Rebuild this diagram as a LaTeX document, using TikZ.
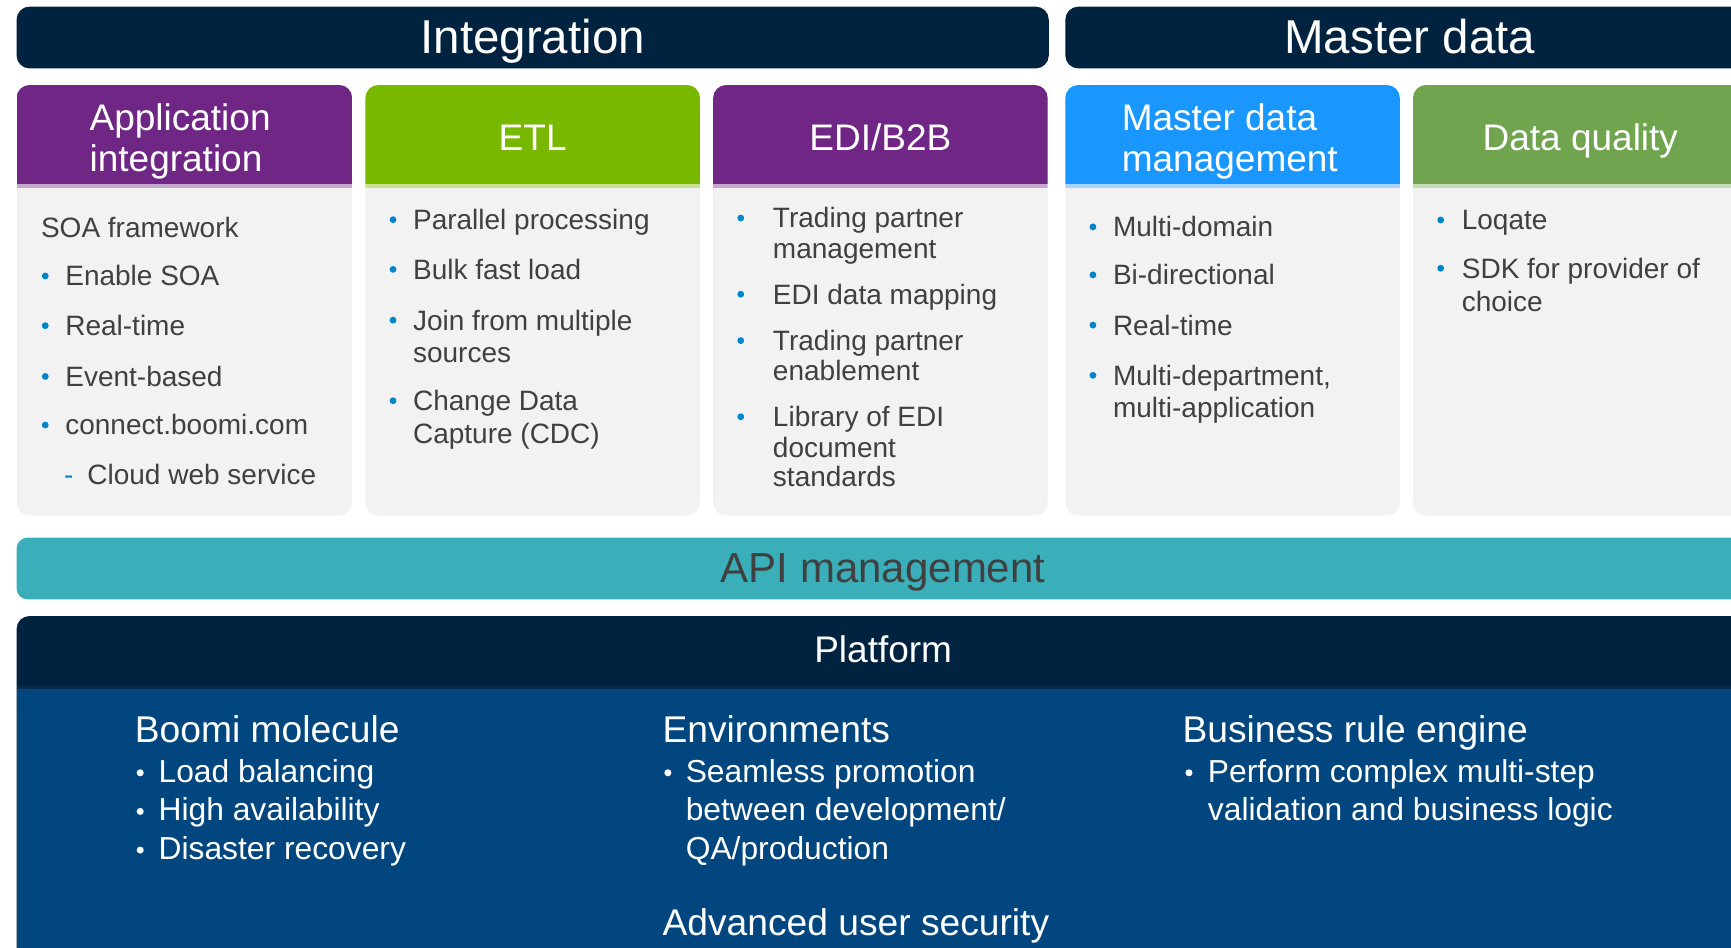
\documentclass[tikz,border=0pt]{standalone}
\usepackage{fontspec}
\setmainfont{Liberation Sans}
\definecolor{navy}{HTML}{012340}
\definecolor{navyline}{HTML}{0A2C4C}
\definecolor{platblue}{HTML}{01467E}
\definecolor{purp}{HTML}{6F2684}
\definecolor{purplite}{HTML}{C6A8CF}
\definecolor{etlgreen}{HTML}{79B800}
\definecolor{etllite}{HTML}{C8E290}
\definecolor{mdmblue}{HTML}{1A96FF}
\definecolor{mdmlite}{HTML}{A6D3FF}
\definecolor{dqgreen}{HTML}{70A44F}
\definecolor{dqlite}{HTML}{C6DCB9}
\definecolor{apiteal}{HTML}{3AAFB9}
\definecolor{bodygray}{HTML}{F2F2F2}
\definecolor{txtgray}{HTML}{404040}
\definecolor{dotblue}{HTML}{0085C8}
\tikzset{
  bartitle/.style={text=white, font=\fontsize{47.5}{50}\selectfont, inner sep=0pt, anchor=base},
  hdtitle/.style={text=white, font=\fontsize{37}{41}\selectfont, inner sep=0pt, anchor=base},
  bodytxt/.style={text=txtgray, font=\fontsize{28}{33}\selectfont, anchor=base west, inner sep=0pt},
  apitxt/.style={text=txtgray, font=\fontsize{42}{46}\selectfont, anchor=base, inner sep=0pt},
  plattitle/.style={text=white, font=\fontsize{37}{41}\selectfont, anchor=base, inner sep=0pt},
  plathead/.style={text=white, font=\fontsize{37.2}{41}\selectfont, anchor=base west, inner sep=0pt},
  plattxt/.style={text=white, font=\fontsize{31.8}{36}\selectfont, anchor=base west, inner sep=0pt}
}
\newcommand{\colitem}[5]{%
  \fill[dotblue] (#2,#4-9) circle[radius=3.1];
  \node[bodytxt] (#1) at (#3,#4) {#5};}
\newcommand{\pitem}[5]{%
  \fill[white] (#2,#4-8.5) circle[radius=3.2];
  \node[plattxt] (#1) at (#3,#4) {#5};}
\newcommand{\colbox}[4]{%
  \begin{scope}
    \clip[rounded corners=13pt] (#1,77) rectangle (#2,467);
    \fill[bodygray] (#1,77) rectangle (#2,467);
    \fill[#3] (#1,77) rectangle (#2,167);
    \fill[#4] (#1,167) rectangle (#2,170.5);
  \end{scope}}
\begin{document}
\begin{tikzpicture}[x=1.1039pt,y=-1.1039pt]
\useasboundingbox (0,0) rectangle (1568,858);
\fill[white] (0,0) rectangle (1568,858);
\clip (0,0) rectangle (1568,858);
% top bars
\fill[navy, rounded corners=13pt] (15,6) rectangle (950,62);
\node[bartitle] (integ) at (482.5,48.5) {Integration};
\fill[navy, rounded corners=13pt] (965,6) rectangle (1620,62);
\node[bartitle] (mdata) at (1277,48.5) {Master data};
% column boxes
\colbox{15}{319}{purp}{purplite}
\colbox{331}{634}{etlgreen}{etllite}
\colbox{646}{949}{purp}{purplite}
\colbox{965}{1268}{mdmblue}{mdmlite}
\colbox{1280}{1583}{dqgreen}{dqlite}
% column headers
\node[hdtitle, anchor=base west] (appA) at (81,118) {Application};
\node[hdtitle, anchor=base west] (appB) at (81,155) {integration};
\node[hdtitle] (etl) at (482.5,136) {ETL};
\node[hdtitle] (edi) at (797.5,136) {EDI/B2B};
\node[hdtitle, anchor=base west] (mdmA) at (1016,118) {Master data};
\node[hdtitle, anchor=base west] (mdmB) at (1016,155) {management};
\node[hdtitle] (dq) at (1431.5,136) {Data quality};
% application integration
\node[bodytxt] (soa) at (37,215) {SOA framework};
\colitem{en}{41}{59}{259}{Enable SOA}
\colitem{rta}{41}{59}{304}{Real-time}
\colitem{ev}{41}{59}{350}{Event-based}
\colitem{cb}{41}{59}{394}{connect.boomi.com}
\node[bodytxt, text=dotblue] (dash) at (58,439) {-};
\node[bodytxt] (cws) at (79,439) {Cloud web service};
% ETL
\colitem{pp}{356}{374}{208}{Parallel processing}
\colitem{bf}{356}{374}{253}{Bulk fast load}
\colitem{jm}{356}{374}{299}{Join from multiple}
\node[bodytxt] (src) at (374,328) {sources};
\colitem{cd}{356}{374}{372}{Change Data}
\node[bodytxt] (cap) at (374,402) {Capture (CDC)};
% EDI
\colitem{tpa}{671}{700}{206.5}{Trading partner}
\node[bodytxt] (mgmt) at (700,234) {management};
\colitem{edm}{671}{700}{275.5}{EDI data mapping}
\colitem{tpb}{671}{700}{317.5}{Trading partner}
\node[bodytxt] (enab) at (700,345) {enablement};
\colitem{lib}{671}{700}{386.5}{Library of EDI}
\node[bodytxt] (doc) at (700,414) {document};
\node[bodytxt] (std) at (700,441) {standards};
% MDM
\colitem{md}{990}{1008}{214.5}{Multi-domain}
\colitem{bd}{990}{1008}{258}{Bi-directional}
\colitem{rtb}{990}{1008}{303.5}{Real-time}
\colitem{mdp}{990}{1008}{349}{Multi-department,}
\node[bodytxt] (mapp) at (1008,378) {multi-application};
% Data quality
\colitem{lq}{1305}{1324}{208.3}{Loqate}
\colitem{sdk}{1305}{1324}{252}{SDK for provider of}
\node[bodytxt] (cho) at (1324,282) {choice};
% API management
\fill[apiteal, rounded corners=11pt] (15,487) rectangle (1620,543);
\node[apitxt] (api) at (800,528) {API management};
% Platform
\fill[navy, rounded corners=13pt] (15,558) rectangle (1620,900);
\fill[platblue] (15,624) rectangle (1620,900);
\fill[navyline] (15,621.5) rectangle (1620,624);
\node[plattitle] (plat) at (800,600) {Platform};
\node[plathead] (boomi) at (122,673) {Boomi molecule};
\pitem{lb}{127}{143.5}{708.5}{Load balancing}
\pitem{ha}{127}{143.5}{743.5}{High availability}
\pitem{dr}{127}{143.5}{778.5}{Disaster recovery}
\node[plathead] (envh) at (600,673) {Environments};
\pitem{sp}{605}{621}{708.5}{Seamless promotion}
\node[plattxt] (btw) at (621,743.5) {between development/};
\node[plattxt] (qa) at (621,778.5) {QA/production};
\node[plathead] (brh) at (1071,673) {Business rule engine};
\pitem{pc}{1077}{1094}{708.5}{Perform complex multi-step}
\node[plattxt] (vb) at (1094,743.5) {validation and business logic};
\node[plathead] (aus) at (600,847) {Advanced user security};
\end{tikzpicture}
\end{document}
